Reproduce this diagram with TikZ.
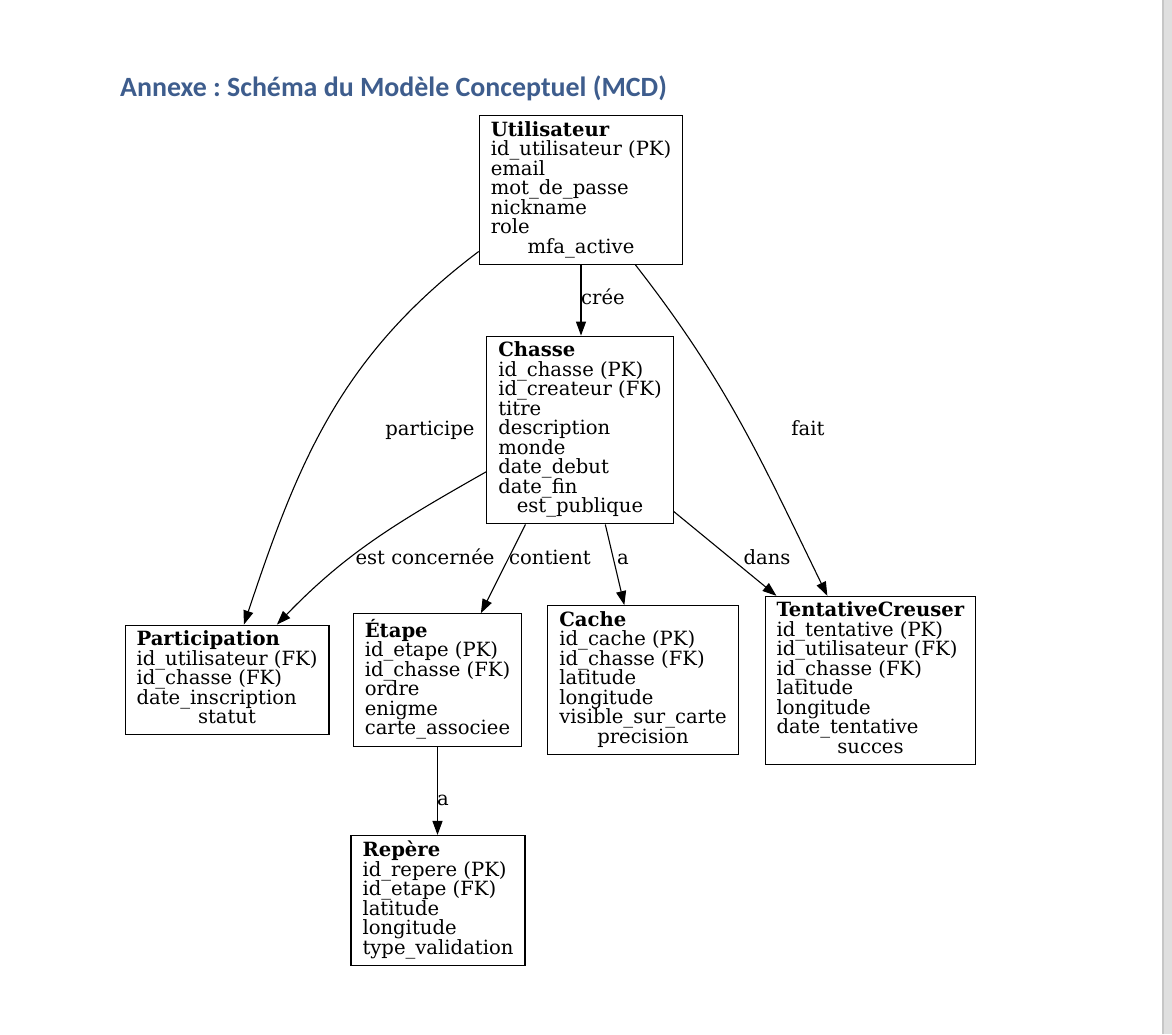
\documentclass[tikz,border=0pt]{standalone}
\usepackage{fontspec}
\setmainfont{DejaVu Serif}
\newfontfamily\titlefont{Carlito}
\usepackage{xcolor}
\usepackage{tikz}
\usetikzlibrary{arrows.meta, positioning, calc}
\frenchspacing

\definecolor{titleblue}{HTML}{3E5D8D}
% rows of an entity box: fixed pitch, left aligned, last row centred
\newcommand{\fields}[1]{\vbox{\baselineskip=19.5pt\lineskiplimit=-\maxdimen
  \halign{##\hfil\cr#1\crcr}}}
\newcommand{\ctrrow}[1]{\hfil#1\strut}

\begin{document}
\begin{tikzpicture}[
    x=1pt, y=1pt,
    entity/.style={rectangle, draw, line width=1.1pt, inner xsep=11.5pt, inner ysep=5.5pt, font=\fontsize{19.6}{19.5}\selectfont},
    rel/.style={-{Triangle[length=14pt,width=10pt]}, line width=1.1pt},
    lbl/.style={anchor=base, inner sep=0pt, font=\fontsize{19.6}{19.5}\selectfont}
]
\useasboundingbox (0,0) rectangle (1172,-1034);
% page edge of the viewer
\fill[gray!25] (1162,0) rectangle (1172,-1034);
\fill[gray!45] (1162,0) rectangle (1164,-1034);

% Title
\node[anchor=base west, inner sep=0pt, text=titleblue, font=\titlefont\fontsize{27.9}{32}\selectfont\bfseries] (title) at (120,-96) {Annexe : Schéma du Modèle Conceptuel (MCD)};

% Entities
\node[entity] (utl) at (581,-190) {\fields{
\strut\textbf{Utilisateur}\cr id\_utilisateur (PK)\cr email\cr mot\_de\_passe\cr nickname\cr role\cr \ctrrow{mfa\_active}}};

\node[entity] (chs) at (580,-430) {\fields{
\strut\textbf{Chasse}\cr id\_chasse (PK)\cr id\_createur (FK)\cr titre\cr description\cr monde\cr date\_debut\cr date\_fin\cr \ctrrow{est\_publique}}};

\node[entity] (ptc) at (227,-680) {\fields{
\strut\textbf{Participation}\cr id\_utilisateur (FK)\cr id\_chasse (FK)\cr date\_inscription\cr \ctrrow{statut}}};

\node[entity] (etp) at (437.5,-680) {\fields{
\strut\textbf{Étape}\cr id\_etape (PK)\cr id\_chasse (FK)\cr ordre\cr enigme\cr \ctrrow{carte\_associee}}};

\node[entity] (cch) at (643,-680) {\fields{
\strut\textbf{Cache}\cr id\_cache (PK)\cr id\_chasse (FK)\cr latitude\cr longitude\cr visible\_sur\_carte\cr \ctrrow{precision}}};

\node[entity] (tnt) at (870.5,-680.5) {\fields{
\strut\textbf{TentativeCreuser}\cr id\_tentative (PK)\cr id\_utilisateur (FK)\cr id\_chasse (FK)\cr latitude\cr longitude\cr date\_tentative\cr \ctrrow{succes}}};

\node[entity] (rep) at (438,-900.5) {\fields{
\strut\textbf{Repère}\cr id\_repere (PK)\cr id\_etape (FK)\cr latitude\cr longitude\cr type\_validation\strut}};

% Relations
\draw[rel] (utl.south) -- (utl.south |- chs.north);
\draw[rel] (utl.211.3) to[out=217, in=71.6] (ptc.73.5);
\draw[rel] (utl.306.6) to[out=308, in=116] (tnt.117);
\draw[rel] (chs.204.3) to[out=209.6, in=46] (ptc.48.4);
\draw[rel] (chs.240.3) -- (etp.57.7);
\draw[rel] (chs.285) -- (cch.104.4);
\draw[rel] (chs.319) -- (tnt.138.8);
\draw[rel] (etp.south) -- (etp.south |- rep.north);

% Relation labels
\node[lbl] (lCree) at (603,-304) {crée};
\node[lbl] (lParticipe) at (430,-435) {participe};
\node[lbl] (lFait) at (808,-435) {fait};
\node[lbl] (lConcerne) at (425,-564) {est concernée};
\node[lbl] (lContient) at (550,-564) {contient};
\node[lbl] (lA) at (623,-564) {a};
\node[lbl] (lDans) at (767,-564) {dans};
\node[lbl] (lARep) at (443,-805) {a};
\end{tikzpicture}
\end{document}
